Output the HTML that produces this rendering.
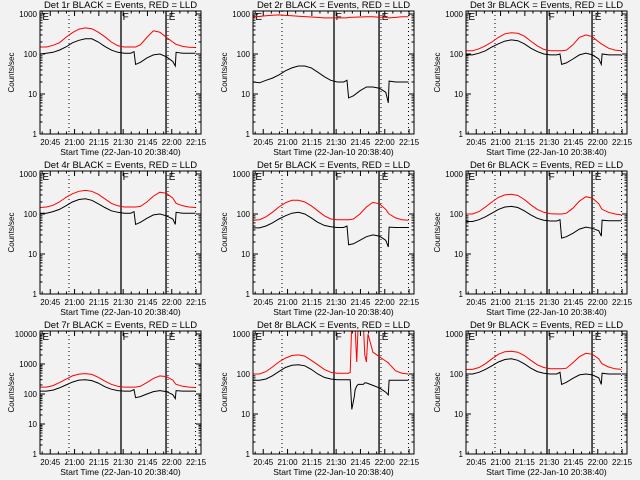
<!DOCTYPE html>
<html><head><meta charset="utf-8"><style>
html,body{margin:0;padding:0;background:#f2f2f2;}
svg{display:block;font-family:"Liberation Sans",sans-serif;}
</style></head><body>
<svg id="chart" width="640" height="480" viewBox="0 0 640 480">
<rect width="640" height="480" fill="#f2f2f2"/>
</svg>
<script>
// ---- data (minutes since 20:38:40) ----
const times = [0,4,8,12,16,20,24,28,32,36,40,44,48,52,56,58,59,62,66,70,74,78,82,83.5,84,88,92,96];
const times8 = [0,4,8,12,16,20,24,28,32,36,40,44,48,52,56,59,60,61,62.5,63,64,65,68,69,70,71,74,78,82,83.5,84,88,92,96];
const titles = ["Det 1r","Det 2r","Det 3r","Det 4r","Det 5r","Det 6r","Det 7r","Det 8r","Det 9r"];
const red1 = [150,150,165,190,260,340,420,450,430,350,270,200,160,150,150,150,150,170,260,380,350,260,200,180,175,155,148,145];
const black1 = [100,105,110,125,150,190,220,240,240,200,155,125,110,105,105,115,55,62,80,95,100,85,65,50,110,105,105,105];
const red2 = [850,870,900,930,950,920,900,880,860,840,820,800,800,800,800,800,820,830,840,850,850,830,820,800,800,820,850,850];
const black2 = [20,19,22,25,30,38,45,50,50,45,35,27,22,20,20,22,8,9,12,15,15,14,11,6,21,20,20,20];
const red3 = [120,120,135,160,200,260,320,340,330,280,210,160,130,120,120,120,120,125,170,260,300,270,200,180,175,140,125,120];
const black3 = [95,95,105,120,150,180,210,225,215,180,140,115,100,95,95,100,55,60,75,95,105,95,75,55,100,95,95,95];
const red4 = [145,150,165,200,260,320,370,390,370,310,240,185,160,150,150,150,150,155,200,280,350,330,250,200,185,160,150,145];
const black4 = [105,105,115,130,160,200,230,240,220,180,145,120,110,105,105,115,55,62,78,95,100,90,75,55,110,105,105,105];
const red5 = [70,72,85,110,150,190,220,220,200,160,120,90,75,72,72,72,72,75,100,150,195,180,130,105,100,80,72,70];
const black5 = [45,45,50,60,75,90,105,110,100,80,62,52,48,46,46,50,17,18,22,27,30,28,22,15,47,46,46,46];
const red6 = [100,100,115,150,200,260,300,310,290,230,170,130,110,102,100,100,100,105,140,210,270,250,180,140,130,110,100,95];
const black6 = [65,65,72,85,105,130,150,155,145,120,95,78,70,67,67,72,25,27,33,42,47,44,38,28,70,68,68,68];
const red7 = [170,170,190,240,310,400,460,480,450,360,270,210,180,170,170,170,170,180,240,330,400,380,290,220,210,180,170,165];
const black7 = [125,125,135,160,200,250,290,300,280,230,175,145,130,125,125,140,75,82,100,120,130,120,95,70,130,125,125,125];
const red8 = [100,100,115,150,200,250,290,300,280,220,170,130,110,105,105,105,110,2000,2000,1500,200,2000,2000,300,200,1000,350,270,210,190,180,120,105,100];
const black8 = [70,70,75,90,115,145,165,170,160,130,100,82,75,72,72,72,72,13,27,40,50,55,55,60,60,58,52,45,35,30,70,70,70,70];
const red9 = [130,130,145,180,240,310,360,370,350,290,220,170,145,135,135,135,135,140,190,270,330,310,240,190,180,150,135,130];
const black9 = [100,100,110,130,160,200,230,240,220,180,140,115,105,100,100,110,55,62,78,95,100,95,80,55,105,100,100,100];
const yMaxDecade = [3,3,3,3,3,3,4,3,3];
const xTickLabels = ["20:45","21:00","21:15","21:30","21:45","22:00","22:15"];
const xTickTimes = [6.33,21.33,36.33,51.33,66.33,81.33,96.33];
const markerTimes = [17.9,50,77.8,79,96];
const markerStyles = ["dot","solid","solid","dot","dot"];
const markerLabels = ["E","F","E"];
const markerLabelTimes = [1.5,51,79.5];

const reds=[red1,red2,red3,red4,red5,red6,red7,red8,red9];
const blacks=[black1,black2,black3,black4,black5,black6,black7,black8,black9];
const NS="http://www.w3.org/2000/svg";
const svg=document.getElementById('chart');
const PXMIN=1.62, BW=161, BH=123;
function mk(tag,attrs,parent){const e=document.createElementNS(NS,tag);for(const k in attrs)e.setAttribute(k,attrs[k]);(parent||svg).appendChild(e);return e;}

for(let p=0;p<9;p++){
  const col=p%3,row=Math.floor(p/3);
  const L=40+col*213,T=11+row*160,R=L+BW,B=T+BH;
  const dmax=yMaxDecade[p];
  const ppd=(BH-3)/dmax;
  const logTop=dmax+3/ppd;
  const xS=t=>L+t*PXMIN;
  const yS=v=>T+(logTop-Math.log10(v))*ppd;
  const g=mk('g',{});
  
  
  const cp=mk('clipPath',{id:'c'+p},g);mk('rect',{x:L,y:T,width:BW,height:BH},cp);
  // title
  const tt=mk('text',{x:(L+R)/2,y:T-3,'text-anchor':'middle','font-size':'9.5',fill:'#000'},g);
  tt.textContent=titles[p]+" BLACK = Events, RED = LLD";
  
  
  // y label
  const yl=mk('text',{x:0,y:0,'text-anchor':'middle','font-size':'8',transform:`translate(${L-26},${(T+B)/2}) rotate(-90)`},g);
  yl.textContent="Counts/sec";
  
  
  // x label
  const xl=mk('text',{x:(L+R)/2,y:B+21,'text-anchor':'middle','font-size':'8.5'},g);
  xl.textContent="Start Time (22-Jan-10 20:38:40)";
  
  
  // y ticks
  for(let d=0;d<=dmax;d++){
    const y=yS(Math.pow(10,d));
    mk('line',{x1:L,x2:L+5,y1:y,y2:y,stroke:'#000'},g);
    mk('line',{x1:R,x2:R-5,y1:y,y2:y,stroke:'#000'},g);
    const lb=mk('text',{x:L-3,y:y+3,'text-anchor':'end','font-size':'8'},g);
    lb.textContent=String(Math.pow(10,d));
    
    
    if(d<dmax)for(let m=2;m<10;m++){const ym=yS(m*Math.pow(10,d));
      mk('line',{x1:L,x2:L+2.5,y1:ym,y2:ym,stroke:'#000'},g);
      mk('line',{x1:R,x2:R-2.5,y1:ym,y2:ym,stroke:'#000'},g);}
  }
  // x ticks
  xTickTimes.forEach((t,i)=>{const x=xS(t);
    if(x<=R+0.5){mk('line',{x1:x,x2:x,y1:B,y2:B-5,stroke:'#000'},g);mk('line',{x1:x,x2:x,y1:T,y2:T+5,stroke:'#000'},g);}
    const lb=mk('text',{x:x,y:B+11,'text-anchor':'middle','font-size':'8'},g);
    lb.textContent=xTickLabels[i];
    
    
    for(let k=1;k<3;k++){const xm=xS(t+5*k);if(xm<R){mk('line',{x1:xm,x2:xm,y1:B,y2:B-2.5,stroke:'#000'},g);mk('line',{x1:xm,x2:xm,y1:T,y2:T+2.5,stroke:'#000'},g);}}
  });
  const x0=xS(1.33);mk('line',{x1:x0,x2:x0,y1:B,y2:B-2.5,stroke:'#000'},g);mk('line',{x1:x0,x2:x0,y1:T,y2:T+2.5,stroke:'#000'},g);
  // markers
  markerTimes.forEach((t,i)=>{const x=xS(t);
    const ln=mk('line',{x1:x,x2:x,y1:T,y2:B,stroke:'#000','stroke-width':markerStyles[i]==='solid'?1.3:1,'stroke-dasharray':markerStyles[i]==='dot'?'1,3':'none'},g);
    
    });
  markerLabels.forEach((s,i)=>{const lb=mk('text',{x:xS(markerLabelTimes[i]),y:T+9,'font-size':'10'},g);
    lb.textContent=s;
    
    });
  // series
  const ts=p===7?times8:times;
  const mkLine=(vals,color,name)=>{const pts=vals.map((v,i)=>xS(ts[i]).toFixed(1)+','+yS(v).toFixed(1)).join(' ');
    const pl=mk('polyline',{points:pts,fill:'none',stroke:color,'stroke-width':1,'clip-path':`url(#c${p})`},g);
    
    };
  mkLine(blacks[p],'#000','events-line');
  mkLine(reds[p],'#ff0000','lld-line');
  mk('rect',{x:L,y:T,width:BW,height:BH,fill:'none',stroke:'#000'},g);
}
</script>
</body></html>
